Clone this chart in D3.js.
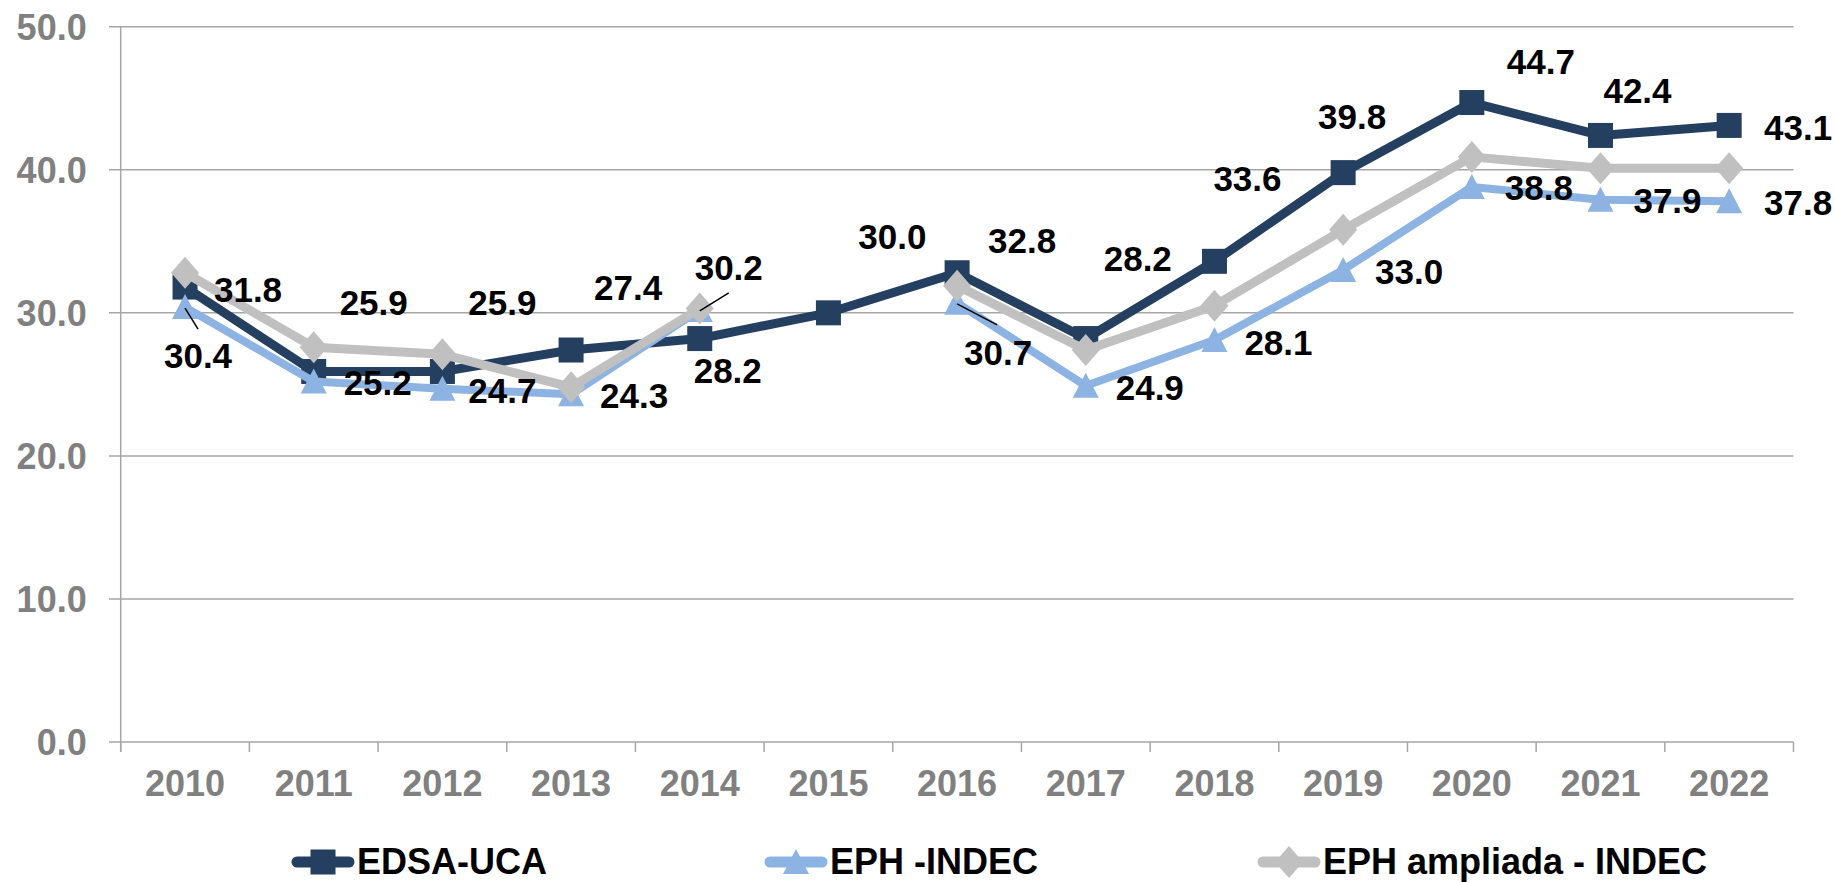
<!DOCTYPE html>
<html>
<head>
<meta charset="utf-8">
<script src="https://cdn.jsdelivr.net/npm/d3@7"></script>
<style>
  html, body { margin: 0; padding: 0; background: #fff; }
  svg { display: block; font-family: "Liberation Sans", Arial, sans-serif; font-weight: bold; }
</style>
</head>
<body>
<div id="chart"></div>
<script>
const years = ['2010', '2011', '2012', '2013', '2014', '2015', '2016', '2017', '2018', '2019', '2020', '2021', '2022'];
const edsa = [31.8, 25.9, 25.9, 27.4, 28.2, 30.0, 32.8, 28.2, 33.6, 39.8, 44.7, 42.4, 43.1];
const eph = [30.4, 25.2, 24.7, 24.3, 30.2, null, 30.7, 24.9, 28.1, 33.0, 38.8, 37.9, 37.8];
const ephAmpliada = [32.8, 27.6, 27.1, 24.8, 30.3, null, 31.9, 27.4, 30.5, 35.8, 40.9, 40.1, 40.1];
const yTicks = [0, 10, 20, 30, 40, 50];
const seriesNames = ['EDSA-UCA', 'EPH -INDEC', 'EPH ampliada - INDEC'];

// label placement (px from the point: label centre x, baseline y), like excel put them
const edsaLabelPos = [[63, 15], [60, -56], [60, -56], [57, -50], [28, 44], [64, -64], [65, -20],
    [52, -68], [33, -70], [9, -44], [69, -29], [37, -32], [69, 15]];
const ephLabelPos = [[13, 61], [64, 14], [60, 14], [63, 14], [29, -30], null, [41, 62],
    [64, 14], [64, 15], [66, 14], [67, 13], [67, 13], [69, 14]];
// leader lines: end point relative to the data point
const ephLeaders = {0: [13, 22], 4: [29, -17], 6: [40, 22]};

const width = 1834;
const height = 882;
const plot = {left: 120.7, right: 1793.5, top: 26.7, bottom: 742};

const colors = ['#243f60', '#8db3e2', '#c0c0c0'];

const svg = d3.select('#chart').append('svg').attr('width', width).attr('height', height);

const x = d3.scaleBand().domain(years).range([plot.left, plot.right]);
const y = d3.scaleLinear().domain([0, 50]).range([plot.bottom, plot.top]);
const cx = d => x(d) + x.bandwidth() / 2;

// gridlines
svg.append('g').selectAll('line').data(yTicks).join('line')
    .attr('x1', plot.left - 11.7).attr('x2', plot.right)
    .attr('y1', d => y(d)).attr('y2', d => y(d))
    .attr('stroke', '#a6a6a6').attr('stroke-width', 1.5);

// y axis
const yAxisG = svg.append('g').attr('transform', 'translate(' + plot.left + ',0)')
    .call(d3.axisLeft(y).tickValues(yTicks).tickSize(0).tickPadding(34).tickFormat(d3.format('.1f')));
yAxisG.select('.domain').remove();
yAxisG.selectAll('text').attr('fill', '#808080').attr('font-size', 36).attr('font-family', null)
    .attr('dy', '0.36em');
svg.append('line').attr('x1', plot.left).attr('x2', plot.left)
    .attr('y1', plot.top).attr('y2', plot.bottom + 10)
    .attr('stroke', '#a6a6a6').attr('stroke-width', 1.5);

// x axis
const xAxisG = svg.append('g').attr('transform', 'translate(0,' + plot.bottom + ')')
    .call(d3.axisBottom(x).tickSize(0).tickPadding(20));
xAxisG.select('.domain').remove();
xAxisG.selectAll('text').attr('fill', '#808080').attr('font-size', 36).attr('font-family', null)
    .attr('dy', '0.95em');
svg.append('g').selectAll('line').data(d3.range(years.length + 1)).join('line')
    .attr('x1', i => plot.left + i * x.step()).attr('x2', i => plot.left + i * x.step())
    .attr('y1', plot.bottom).attr('y2', plot.bottom + 10)
    .attr('stroke', '#a6a6a6').attr('stroke-width', 1.5);

// markers
function marker(g, type, color) {
    if (type === 'square') {
        g.append('rect').attr('x', -12.5).attr('y', -12.5).attr('width', 25).attr('height', 25).attr('fill', color);
    } else if (type === 'triangle') {
        g.append('path').attr('d', 'M0,-13L13,12L-13,12Z').attr('fill', color);
    } else {
        g.append('path').attr('d', 'M0,-16L14,0L0,16L-14,0Z').attr('fill', color);
    }
}

const series = [
    {values: edsa, color: colors[0], width: 9, marker: 'square'},
    {values: eph, color: colors[1], width: 8, marker: 'triangle'},
    {values: ephAmpliada, color: colors[2], width: 9, marker: 'diamond'}
];

const line = d3.line()
    .defined(d => d.v != null)
    .x(d => cx(d.year))
    .y(d => y(d.v));

series.forEach(s => {
    const pts = years.map((year, i) => ({year: year, v: s.values[i]}));
    const g = svg.append('g');
    // excel skips the gap (no line across missing years)
    g.append('path').datum(pts).attr('d', line)
        .attr('fill', 'none').attr('stroke', s.color).attr('stroke-width', s.width)
        .attr('stroke-linejoin', 'round');
    pts.filter(d => d.v != null).forEach(d => {
        const m = g.append('g').attr('transform', 'translate(' + cx(d.year) + ',' + y(d.v) + ')');
        marker(m, s.marker, s.color);
    });
});

// data labels
const labels = svg.append('g').attr('font-size', 35).attr('fill', '#000').attr('text-anchor', 'middle');
edsa.forEach((v, i) => {
    const p = edsaLabelPos[i];
    labels.append('text').attr('x', cx(years[i]) + p[0]).attr('y', y(v) + p[1]).text(v.toFixed(1));
});
eph.forEach((v, i) => {
    if (v == null) return;
    const p = ephLabelPos[i];
    labels.append('text').attr('x', cx(years[i]) + p[0]).attr('y', y(v) + p[1]).text(v.toFixed(1));
    if (ephLeaders[i]) {
        svg.append('line').attr('x1', cx(years[i])).attr('y1', y(v) + 1)
            .attr('x2', cx(years[i]) + ephLeaders[i][0]).attr('y2', y(v) + ephLeaders[i][1])
            .attr('stroke', '#000').attr('stroke-width', 1.5);
    }
});

// legend
const legendX = [292, 765, 1258];
const legendY = 862;
const legend = svg.append('g');
seriesNames.forEach((name, i) => {
    const g = legend.append('g').attr('transform', 'translate(' + legendX[i] + ',' + legendY + ')');
    g.append('line').attr('x1', 5).attr('x2', 57).attr('y1', 0).attr('y2', 0)
        .attr('stroke', series[i].color).attr('stroke-width', 11).attr('stroke-linecap', 'round');
    const m = g.append('g').attr('transform', 'translate(31,0)');
    marker(m, series[i].marker, series[i].color);
    g.append('text').attr('x', 65).attr('y', 12).attr('font-size', 36).attr('fill', '#000').text(name);
});
</script>
</body>
</html>
